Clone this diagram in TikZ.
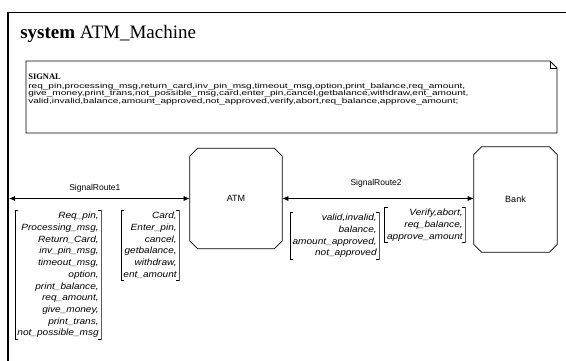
\documentclass[tikz,border=0pt]{standalone}
\usepackage{fontspec}
\setmainfont{Liberation Serif}
\newfontfamily\labelfont{Liberation Sans}
\newfontfamily\declfont[FakeStretch=1.4]{Liberation Sans}
\newfontfamily\listfont[FakeStretch=1.12]{Liberation Sans}
\usetikzlibrary{arrows.meta, positioning, calc}

\begin{document}
\begin{tikzpicture}[%
        x = 1pt,
        y = -1pt,
        > = {Latex[length=6pt, width=5pt]},
        line width = 0.6pt,
        block/.style = {%
            inner sep = 0pt,
            font = \labelfont\fontsize{9}{10}\selectfont,
            append after command = {%
                \pgfextra{%
                    \draw[line width = 0.8pt]
                        ([xshift = 8pt]\tikzlastnode.north west)
                        -- ([xshift = -8pt]\tikzlastnode.north east)
                        -- ([yshift = -8pt]\tikzlastnode.north east)
                        -- ([yshift = 8pt]\tikzlastnode.south east)
                        -- ([xshift = -8pt]\tikzlastnode.south east)
                        -- ([xshift = 8pt]\tikzlastnode.south west)
                        -- ([yshift = 8pt]\tikzlastnode.south west)
                        -- ([yshift = -8pt]\tikzlastnode.north west)
                        -- cycle;
                }
            }
        },
        siglist/.style = {%
            align = right,
            inner xsep = 3pt,
            inner ysep = 2pt,
            font = \listfont\itshape\fontsize{9}{11.7}\selectfont,
            path picture = {%
                \draw[line width = 0.8pt]
                    ($(path picture bounding box.north west) + (3.5pt, -0.4pt)$)
                    -- ++(-3pt, 0pt)
                    |- ($(path picture bounding box.south west) + (3.5pt, 0.4pt)$);
                \draw[line width = 0.8pt]
                    ($(path picture bounding box.north east) + (-3.5pt, -0.4pt)$)
                    -- ++(3pt, 0pt)
                    |- ($(path picture bounding box.south east) + (-3.5pt, 0.4pt)$);
            }
        },
        route/.style = {<->, line width = 0.8pt},
        routename/.style = {font = \labelfont\fontsize{8.5}{10}\selectfont}
    ]

    \useasboundingbox (0,0) rectangle (566,360);

    % Frame of the system.
    \draw[line width = 1.6pt] (8,362) -- (8,12);
    \draw[line width = 0.9pt] (7.2,12) -- (568,12);

    % Title.
    \node[anchor = base west, inner sep = 0pt,
          font = \fontsize{19}{22}\selectfont] (title) at (20,38)
        {\textbf{system} ATM\_Machine};

    % Text symbol with the signal declarations.
    \draw[line width = 0.8pt] (26,61) -- (550,61) -- (557,68) -- (557,133)
        -- (26,133) -- cycle;
    \draw[line width = 0.6pt] (550,61) |- (557,68);
    \node[anchor = north west, align = left, inner sep = 0pt,
          font = \declfont\fontsize{7.2}{6.7}\selectfont] (decl) at (28,73.5)
        {{\rmfamily\bfseries\fontsize{8.5}{8}\selectfont SIGNAL}\\[2pt]
         req\_pin,processing\_msg,return\_card,inv\_pin\_msg,timeout\_msg,option,print\_balance,req\_amount,\\
         give\_money,print\_trans,not\_possible\_msg,card,enter\_pin,cancel,getbalance,withdraw,ent\_amount,\\
         valid,invalid,balance,amount\_approved,not\_approved,verify,abort,req\_balance,approve\_amount;};

    % Blocks.
    \node[block, minimum width = 92pt, minimum height = 100pt] (atm) at (236,198.5) {ATM};
    \node[block, minimum width = 83pt, minimum height = 105pt] (bank) at (515.5,199.5) {Bank};

    % Signal routes.
    \coordinate (env) at (9,198.5);
    \draw[route] (env) -- (env -| atm.west)
        node[routename, pos = 0.475, above = 3pt] (r1name) {SignalRoute1};
    \draw[route] (atm.east) -- (atm.east -| bank.west)
        node[routename, pos = 0.49, above = 8pt] (r2name) {SignalRoute2};

    % Signal lists.
    \node[siglist, anchor = north east] (listA) at (102,210)
        {Req\_pin,\\Processing\_msg,\\Return\_Card,\\inv\_pin\_msg,\\timeout\_msg,\\option,\\
         print\_balance,\\req\_amount,\\give\_money,\\print\_trans,\\not\_possible\_msg};
    \node[siglist, anchor = north east] (listB) at (180,210)
        {Card,\\Enter\_pin,\\cancel,\\getbalance,\\withdraw,\\ent\_amount};
    \node[siglist, anchor = north east] (listC) at (380,212)
        {valid,invalid,\\balance,\\amount\_approved,\\not\_approved};
    \node[siglist, anchor = north east] (listD) at (466,207)
        {Verify,abort,\\req\_balance,\\approve\_amount};

\end{tikzpicture}
\end{document}
